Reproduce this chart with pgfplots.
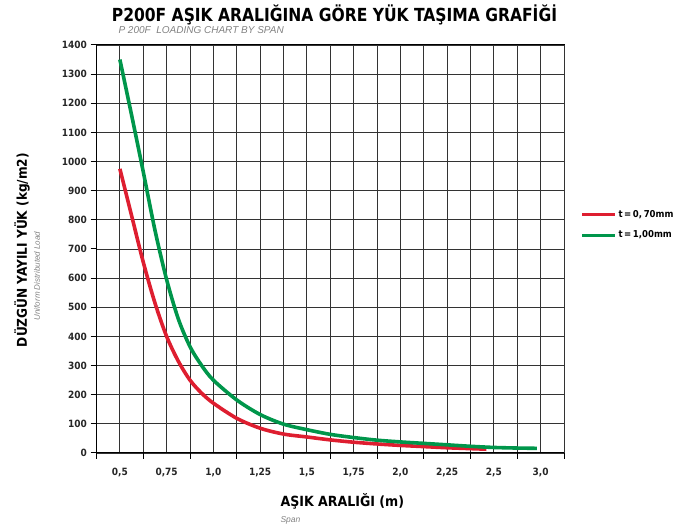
\documentclass[border=0pt]{standalone}
\usepackage{pgfplots}
\pgfplotsset{compat=1.18}
\usepackage{fontspec}
\setmainfont{DejaVu Sans Condensed}
\newfontfamily\itf{Liberation Sans}
\definecolor{cred}{RGB}{222,30,48}
\definecolor{cgreen}{RGB}{0,150,75}
\definecolor{subgray}{RGB}{130,130,130}
\begin{document}
\begin{tikzpicture}
\useasboundingbox (0,0) rectangle (682pt,529pt);
\begin{axis}[
  at={(96.5pt,76pt)}, anchor=south west,
  scale only axis, width=467.5pt, height=408pt,
  xmin=0.375, xmax=2.875, ymin=0, ymax=1400,
  xtick={0.375,0.625,...,2.7}, 
  xticklabels={{0,5},{0,75},{1,0},{1,25},{1,5},{1,75},{2,0},{2,25},{2,5},{3,0}},
  xticklabel style={xshift=23.375pt, yshift=-6pt},
  extra x ticks={2.875}, extra x tick labels={},
  minor xtick={0.5,0.75,...,2.8},
  ytick={0,100,...,1400},
  yticklabel style={/pgf/number format/1000 sep={}},
  /pgf/number format/assume math mode=true,
  tick label style={font=\bfseries\fontsize{10}{12}\selectfont, text=black!85},
  tick align=outside,
  xtick pos=bottom, ytick pos=left,
  major tick length=6pt,
  minor tick length=0pt,
  xmajorgrids, xminorgrids, ymajorgrids,
  grid style={black!80, line width=0.9pt},
  minor grid style={black!80, line width=0.9pt},
  axis line style={black, line width=1pt},
  tick style={black, line width=1pt},
  legend style={at={(1.035,0.60)}, anchor=north west, draw=none, fill=none,
    font=\bfseries\fontsize{9.5}{11}\selectfont, row sep=8pt, inner sep=0pt},
  legend cell align=left,
  legend image code/.code={\draw[#1, line width=3pt] (0pt,0pt) -- (33pt,0pt);},
]
\addplot[cred, line width=3.6pt, smooth] coordinates {
(0.5,975) (0.5625,815) (0.625,655) (0.6875,515) (0.75,400) (0.8125,315)
(0.875,250) (0.9375,205) (1.0,171) (1.125,119) (1.25,85) (1.375,65)
(1.5,55) (1.625,45) (1.75,37) (1.875,31) (2.0,26) (2.125,22) (2.25,18)
(2.375,15) (2.46,13)};
\addlegendentry{t\,=\,0,\,70mm}
\addplot[cgreen, line width=3.6pt, smooth] coordinates {
(0.5,1350) (0.5625,1160) (0.625,965) (0.6875,765) (0.75,595) (0.8125,460)
(0.875,365) (0.9375,300) (1.0,250) (1.125,182) (1.25,132) (1.375,99)
(1.5,80) (1.625,64) (1.75,53) (1.875,44) (2.0,38) (2.125,33) (2.25,28)
(2.375,23) (2.5,19) (2.625,17) (2.73,16)};
\addlegendentry{t\,=\,1,00mm}
\end{axis}
\node[font=\bfseries\fontsize{18}{20}\selectfont, xscale=0.96] at (334.5pt,514pt) {P200F AŞIK ARALIĞINA GÖRE YÜK TAŞIMA GRAFİĞİ};
\node[anchor=west, font=\itf\itshape\fontsize{10}{12}\selectfont, text=subgray] at (115pt,499pt) {P 200F\ \ LOADING CHART BY SPAN};
\node[rotate=90, font=\bfseries\fontsize{13.5}{15}\selectfont] at (22pt,279pt) {DÜZGÜN YAYILI YÜK (kg/m2)};
\node[rotate=90, font=\itf\itshape\fontsize{8}{9}\selectfont, text=subgray] at (37pt,253pt) {Uniform Distributed Load};
\node[anchor=west, font=\bfseries\fontsize{14}{16}\selectfont] at (277pt,28pt) {AŞIK ARALIĞI (m)};
\node[anchor=west, font=\itf\itshape\fontsize{8.5}{10}\selectfont, text=subgray] at (277pt,9pt) {Span};
\end{tikzpicture}
\end{document}
